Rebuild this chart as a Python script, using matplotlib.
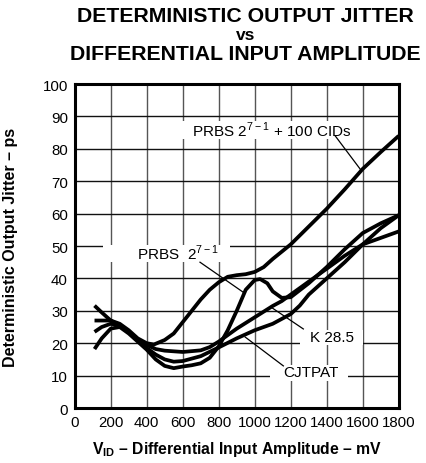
import matplotlib
matplotlib.use('Agg')
import matplotlib.pyplot as plt
from matplotlib.patches import Rectangle

plt.rcParams['font.family'] = ['Liberation Sans', 'DejaVu Sans']
plt.rcParams['mathtext.fontset'] = 'custom'
plt.rcParams['mathtext.rm'] = 'Liberation Sans'
plt.rcParams['mathtext.bf'] = 'Liberation Sans:bold'

# data (mV, ps)
prbs_x = [110, 200, 250, 300, 350, 400, 440, 500, 550, 600, 650, 700, 750, 800, 850,
          900, 950, 1000, 1050, 1100, 1200, 1300, 1400, 1500, 1600, 1700, 1800]
prbs_y = [27, 27, 26, 24, 21.5, 20, 19.6, 21, 23, 26.5, 30, 33.5, 36.5, 38.8, 40.5,
          41, 41.3, 42, 43.5, 46, 50.5, 56, 61.5, 67.5, 73.8, 79, 84]

k285_x = [110, 150, 200, 250, 300, 350, 400, 450, 500, 550, 600, 650, 700, 750, 800,
          850, 900, 950, 1000, 1030, 1070, 1100, 1150, 1200, 1300, 1400, 1500, 1600,
          1700, 1800]
k285_y = [18.2, 21.5, 24.5, 25, 23, 20.5, 18, 15, 13, 12.3, 12.8, 13.2, 13.8, 15.5, 19,
          24, 30, 36.5, 39.5, 39.8, 38.5, 36, 34, 34.2, 38.5, 43.5, 49, 54, 57, 59.5]

cjtpat_x = [110, 150, 200, 250, 300, 350, 400, 450, 500, 550, 600, 700, 800, 900, 1000,
            1100, 1200, 1250, 1300, 1400, 1500, 1600, 1700, 1800]
cjtpat_y = [31.6, 29.5, 27, 25.5, 23.5, 21, 18.5, 16.5, 15, 14.3, 14.5, 16, 18.7, 21.5, 24,
            26, 29, 31.6, 35, 40, 45, 50.5, 55.5, 59.5]

mid_x = [110, 150, 200, 250, 300, 350, 400, 450, 500, 600, 700, 750, 800, 850, 900, 1000,
         1100, 1150, 1200, 1300, 1400, 1500, 1600, 1700, 1800]
mid_y = [23.5, 25, 26, 25.5, 23.5, 21, 19.5, 18.2, 17.7, 17.3, 17.8, 18.8, 20.5, 22.5, 24.5,
         28, 31.5, 33, 35, 39, 43, 47, 50.5, 52.5, 54.5]

xticks = [0, 200, 400, 600, 800, 1000, 1200, 1400, 1600, 1800]
yticks = [0, 10, 20, 30, 40, 50, 60, 70, 80, 90, 100]

fig = plt.figure(figsize=(4.26, 4.64), dpi=100)
ax = fig.add_axes([0.1754, 0.1185, 0.7606, 0.6983])

for xs, ys in [(prbs_x, prbs_y), (k285_x, k285_y), (cjtpat_x, cjtpat_y), (mid_x, mid_y)]:
    ax.plot(xs, ys, color='black', lw=2.7, solid_capstyle='butt', zorder=5)

ax.set_xlim(0, 1800)
ax.set_ylim(0, 100)
ax.set_xticks(xticks)
ax.set_yticks(yticks)
ax.tick_params(length=0, labelsize=10.8, pad=5)
for x in xticks[1:-1]:
    ax.axvline(x, color='#555555', lw=1.0, zorder=1)
for y in yticks[1:-1]:
    ax.axhline(y, color='#111111', lw=1.0, zorder=1)
for s in ax.spines.values():
    s.set_linewidth(2.2)
    s.set_zorder(6)

# white backgrounds behind the curve labels (they cut the grid)
for x0, x1, y0, y1 in [(590, 1570, 83, 88.5), (157, 863, 45.2, 50.4),
                       (1251, 1602, 19.4, 24), (1085, 1519, 8.3, 13.2)]:
    ax.add_patch(Rectangle((x0, y0), x1 - x0, y1 - y0, facecolor='white',
                           edgecolor='none', zorder=2))

ax.text(1096, 86, 'PRBS 2$^{\\mathregular{7-1}}$ + 100 CIDs', ha='center', va='center',
        fontsize=11, zorder=3)
ax.text(574, 48, 'PRBS  2$^{\\mathregular{7-1}}$', ha='center', va='center',
        fontsize=11, zorder=3)
ax.text(1430, 21.8, 'K 28.5', ha='center', va='center', fontsize=11, zorder=3)
ax.text(1314, 11, 'CJTPAT', ha='center', va='center', fontsize=11, zorder=3)

# leader lines
ax.plot([1447, 1585], [84, 73.8], color='black', lw=0.9, zorder=4)
ax.plot([696, 937], [45, 35.7], color='black', lw=0.9, zorder=4)
ax.plot([1094, 1270], [31, 24.4], color='black', lw=0.9, zorder=4)
ax.plot([947, 1159], [21.9, 13], color='black', lw=0.9, zorder=4)

ax.set_xlabel('V$_{\\mathbf{ID}}$ \u2013 Differential Input Amplitude \u2013 mV',
              fontsize=11.3, fontweight='bold', labelpad=7)
ax.set_ylabel('Deterministic Output Jitter \u2013 ps', fontsize=11.5, fontweight='bold')
ax.yaxis.set_label_coords(-0.175, 0.5)

fig.text(0.577, 1 - 17 / 464, 'DETERMINISTIC OUTPUT JITTER', ha='center', va='center',
         fontsize=15.3, fontweight='bold')
fig.text(0.577, 1 - 36 / 464, 'vs', ha='center', va='center', fontsize=12.5, fontweight='bold')
fig.text(0.577, 1 - 55 / 464, 'DIFFERENTIAL INPUT AMPLITUDE', ha='center', va='center',
         fontsize=15.3, fontweight='bold')

fig.savefig('out.png', dpi=100)
